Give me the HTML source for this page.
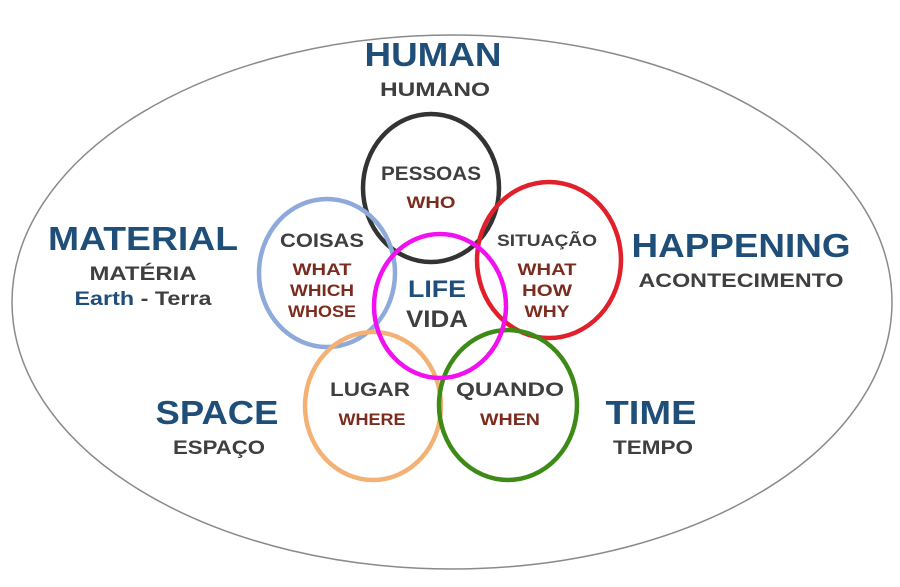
<!DOCTYPE html>
<html><head><meta charset="utf-8"><style>
html,body{margin:0;padding:0;background:#fff;}
svg{display:block;}
text{font-family:"Liberation Sans",sans-serif;font-weight:bold;text-anchor:middle;}
.b{fill:#1f4e79}.g{fill:#3f3f3f}.r{fill:#7b2c1e}
</style></head><body>
<svg width="900" height="587" viewBox="0 0 900 587" xmlns="http://www.w3.org/2000/svg">
<ellipse cx="452" cy="302" rx="440" ry="267" fill="none" stroke="#8a8a8a" stroke-width="1.5"/>
<g fill="none" stroke-width="4.5">
<ellipse cx="431" cy="188" rx="68" ry="74" stroke="#333"/>
<ellipse cx="327" cy="273" rx="68" ry="74" stroke="#8eaadb"/>
<ellipse cx="549" cy="260" rx="72" ry="78" stroke="#e0202a"/>
<ellipse cx="373" cy="406" rx="68" ry="74" stroke="#f4b175"/>
<ellipse cx="508" cy="405" rx="69" ry="75" stroke="#3d8a16"/>
<ellipse cx="440" cy="306" rx="66" ry="72" stroke="#f010f0"/>
</g>
<text class="b" x="433" y="66" font-size="33" textLength="137" lengthAdjust="spacingAndGlyphs">HUMAN</text>
<text class="g" x="435" y="96" font-size="19" textLength="110" lengthAdjust="spacingAndGlyphs">HUMANO</text>
<text class="b" x="143" y="250" font-size="33" textLength="190" lengthAdjust="spacingAndGlyphs">MATERIAL</text>
<text class="g" x="143" y="280" font-size="19" textLength="107" lengthAdjust="spacingAndGlyphs">MATÉRIA</text>
<text x="143" y="305" font-size="19" textLength="137" lengthAdjust="spacingAndGlyphs"><tspan class="b">Earth</tspan><tspan class="g"> - Terra</tspan></text>
<text class="b" x="741" y="257" font-size="33" textLength="219" lengthAdjust="spacingAndGlyphs">HAPPENING</text>
<text class="g" x="741" y="287" font-size="19" textLength="205" lengthAdjust="spacingAndGlyphs">ACONTECIMENTO</text>
<text class="b" x="217" y="424" font-size="33" textLength="123" lengthAdjust="spacingAndGlyphs">SPACE</text>
<text class="g" x="219" y="454" font-size="19" textLength="92" lengthAdjust="spacingAndGlyphs">ESPAÇO</text>
<text class="b" x="651" y="424" font-size="33" textLength="91" lengthAdjust="spacingAndGlyphs">TIME</text>
<text class="g" x="653" y="454" font-size="19" textLength="80" lengthAdjust="spacingAndGlyphs">TEMPO</text>
<text class="g" x="431" y="180" font-size="19" textLength="100" lengthAdjust="spacingAndGlyphs">PESSOAS</text>
<text class="r" x="431" y="208" font-size="17" textLength="49" lengthAdjust="spacingAndGlyphs">WHO</text>
<text class="g" x="322" y="247" font-size="19" textLength="84" lengthAdjust="spacingAndGlyphs">COISAS</text>
<text class="r" x="322" y="275" font-size="17" textLength="59" lengthAdjust="spacingAndGlyphs">WHAT</text>
<text class="r" x="322" y="296" font-size="17" textLength="64" lengthAdjust="spacingAndGlyphs">WHICH</text>
<text class="r" x="322" y="317" font-size="17" textLength="68" lengthAdjust="spacingAndGlyphs">WHOSE</text>
<text class="g" x="547" y="246" font-size="17" textLength="100" lengthAdjust="spacingAndGlyphs">SITUAÇÃO</text>
<text class="r" x="547" y="275" font-size="17" textLength="59" lengthAdjust="spacingAndGlyphs">WHAT</text>
<text class="r" x="547" y="296" font-size="17" textLength="50" lengthAdjust="spacingAndGlyphs">HOW</text>
<text class="r" x="547" y="317" font-size="17" textLength="45" lengthAdjust="spacingAndGlyphs">WHY</text>
<text class="b" x="437" y="297" font-size="24" textLength="58" lengthAdjust="spacingAndGlyphs">LIFE</text>
<text class="g" x="437" y="327" font-size="24" textLength="62" lengthAdjust="spacingAndGlyphs">VIDA</text>
<text class="g" x="370" y="396" font-size="19" textLength="80" lengthAdjust="spacingAndGlyphs">LUGAR</text>
<text class="r" x="372" y="425" font-size="17" textLength="67" lengthAdjust="spacingAndGlyphs">WHERE</text>
<text class="g" x="510" y="396" font-size="19" textLength="108" lengthAdjust="spacingAndGlyphs">QUANDO</text>
<text class="r" x="510" y="425" font-size="17" textLength="60" lengthAdjust="spacingAndGlyphs">WHEN</text>
</svg>
</body></html>
